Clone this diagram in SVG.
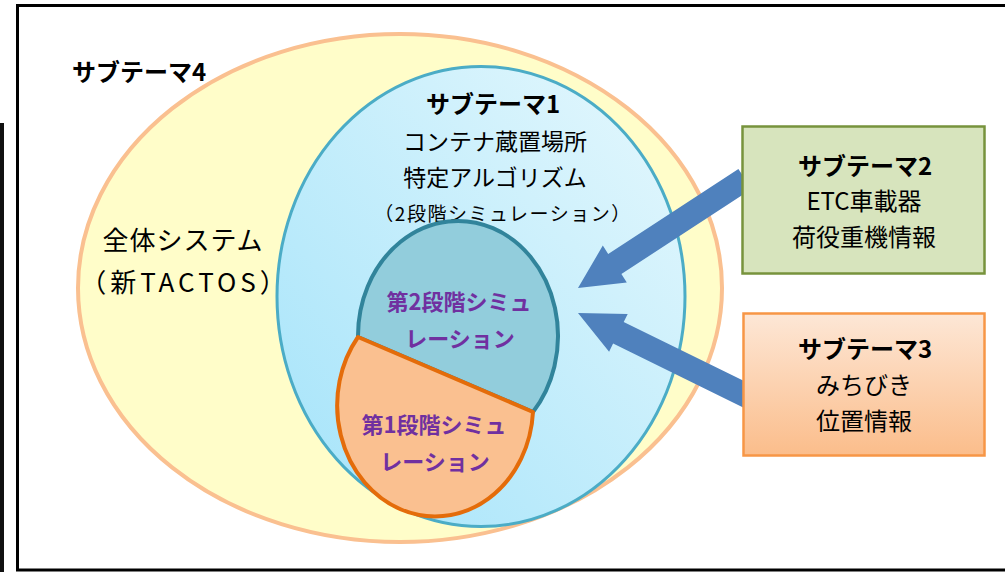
<svg xmlns="http://www.w3.org/2000/svg" width="1005" height="572" viewBox="0 0 1005 572">
<defs>
<linearGradient id="gBlue" x1="1" y1="0" x2="0" y2="1">
<stop offset="0" stop-color="#e6f8fd"/>
<stop offset="1" stop-color="#a3e3fa"/>
</linearGradient>
<linearGradient id="gOrange" x1="0" y1="0" x2="0" y2="1">
<stop offset="0" stop-color="#fde7d6"/>
<stop offset="1" stop-color="#fbbd8b"/>
</linearGradient>
<style>
text{font-family:"Noto Sans CJK JP","Noto Sans",sans-serif;fill:#000;text-anchor:middle}
.b{font-weight:bold}
.p{fill:#7030a0;font-weight:bold;font-size:22px}
.arrow{fill:#4f81bd}
</style>
</defs>
<rect x="0" y="0" width="1005" height="572" fill="#fff"/>
<rect x="0" y="123" width="4" height="449" fill="#111"/>
<rect x="17.5" y="5.5" width="1000" height="564.5" fill="none" stroke="#000" stroke-width="3"/>

<g id="subtheme4">
<ellipse cx="400" cy="288" rx="322" ry="254" fill="#fffdc9" stroke="#fac090" stroke-width="4"/>
<text x="139" y="81" class="b" font-size="24">サブテーマ4</text>
<text x="183" y="250" font-size="26" letter-spacing="1">全体システム</text>
<text x="185" y="292" font-size="26" letter-spacing="4">（新TACTOS）</text>
</g>

<g id="subtheme1">
<ellipse cx="481" cy="296.5" rx="204" ry="230" fill="url(#gBlue)" stroke="#4bacc6" stroke-width="3"/>
<text x="493" y="113" class="b" font-size="24">サブテーマ1</text>
<text x="495" y="150" font-size="23">コンテナ蔵置場所</text>
<text x="495" y="186" font-size="23">特定アルゴリズム</text>
<text x="503" y="221" font-size="19" letter-spacing="1.5">（2段階シミュレーション）</text>
</g>

<g id="stage2">
<path d="M358,337 L533,412 A100 115 0 1 0 358,337 Z" fill="#92cddc" stroke="#31849b" stroke-width="4" stroke-linejoin="round"/>
<text x="459" y="310" class="p">第2段階シミュ</text>
<text x="460" y="347" class="p">レーション</text>
</g>

<g id="stage1">
<path d="M358,337 L533,412 A98 111 0 1 1 358,337 Z" fill="#fac090" stroke="#e46c0a" stroke-width="4" stroke-linejoin="round"/>
<text x="434" y="433" class="p">第1段階シミュ</text>
<text x="435" y="470" class="p">レーション</text>
</g>

<g id="connectors">
<polygon class="arrow" points="751.6,189 621.4,274 626.8,282.4 578,288 602.8,245.6 608.2,254 738.4,169"/>
<polygon class="arrow" points="744.7,408.2 613.1,343.6 609.1,351.7 578,313 627.7,313.9 623.7,322 755.3,386.6"/>
</g>

<g id="subtheme2">
<rect x="742.5" y="126.5" width="242" height="147" fill="#d7e4bd" stroke="#77933c" stroke-width="2.5"/>
<text x="865" y="175" class="b" font-size="24">サブテーマ2</text>
<text x="864" y="210" font-size="24">ETC車載器</text>
<text x="864" y="246" font-size="24">荷役重機情報</text>
</g>

<g id="subtheme3">
<rect x="743.5" y="313.5" width="241" height="142" fill="url(#gOrange)" stroke="#f79646" stroke-width="2.5"/>
<text x="865" y="358" class="b" font-size="24">サブテーマ3</text>
<text x="864" y="394" font-size="24">みちびき</text>
<text x="864" y="430" font-size="24">位置情報</text>
</g>
</svg>
